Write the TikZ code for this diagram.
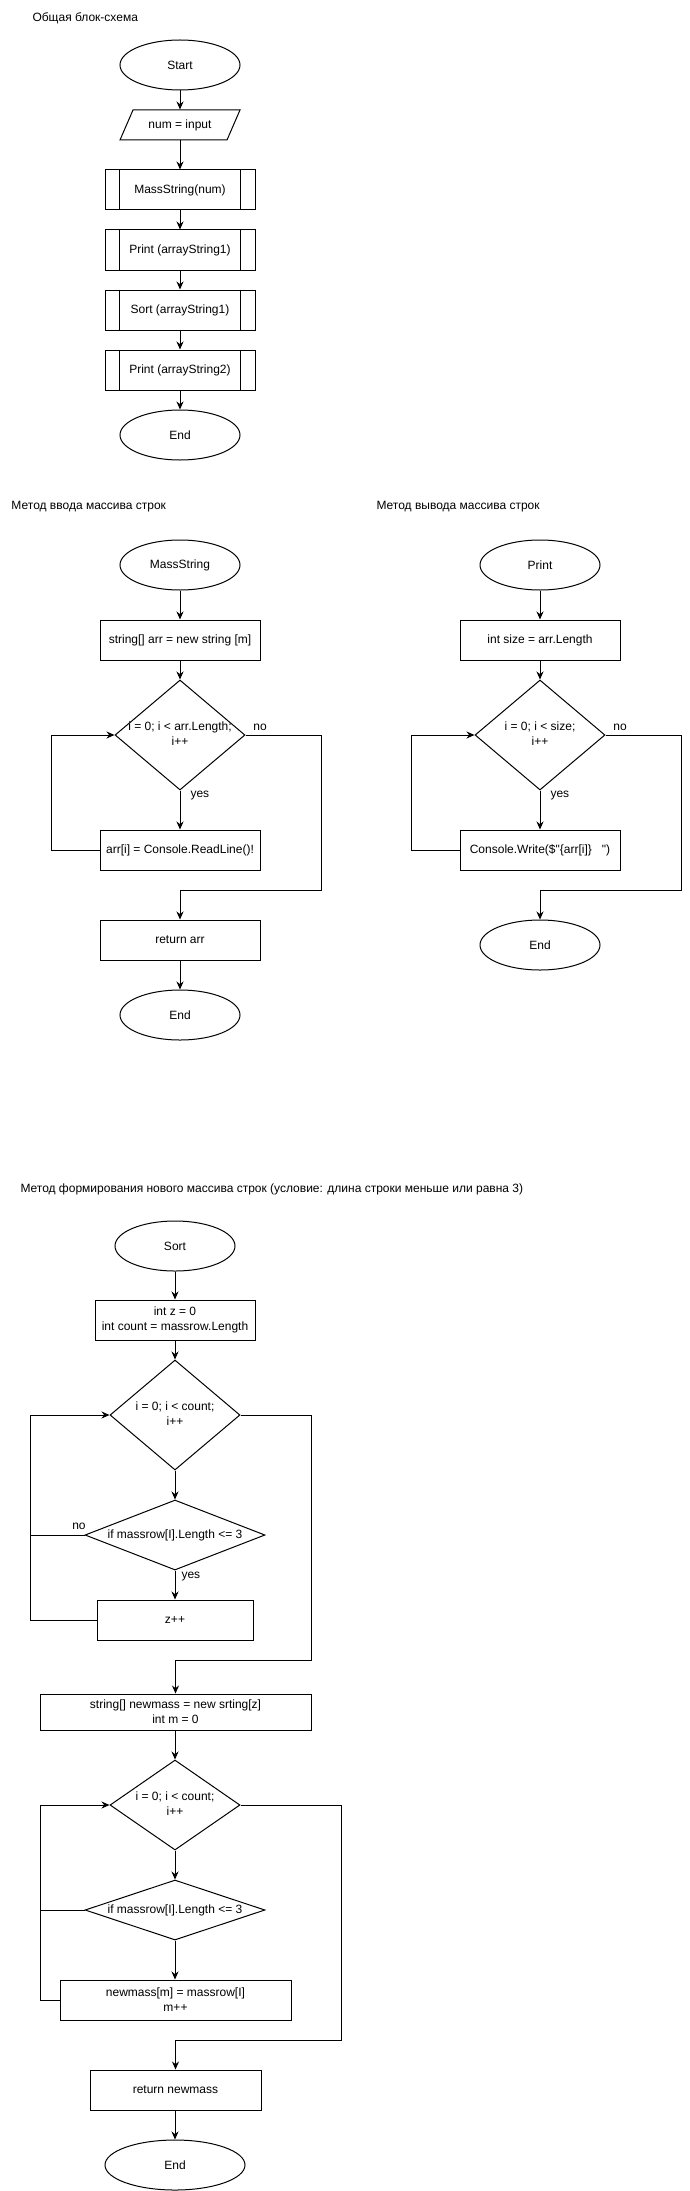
\documentclass[tikz,border=0pt]{standalone}
\usepackage{fontspec}
\setmainfont{Liberation Sans}[Ligatures=TeXOff]
\usetikzlibrary{shapes.geometric,arrows.meta}
\newcommand\dtext[1]{\makebox[0pt]{\begin{tabular}{@{}c@{}}#1\end{tabular}}}
\begin{document}
\begin{tikzpicture}[x=1pt, y=-1pt, line width=1pt,
  every node/.style={font=\fontsize{12}{15}\selectfont},
  term/.style={draw, ellipse, inner sep=0, minimum width=120, minimum height=50},
  proc/.style={draw, rectangle, inner sep=0, minimum height=40, align=center},
  sub/.style={proc, minimum width=150},
  dia/.style={draw, diamond, inner sep=0},
  arr/.style={-{Stealth[length=8pt,width=7pt]}},
  lbl/.style={inner sep=0},
  ttl/.style={anchor=west, inner sep=0}]
\fill[white] (0,0) rectangle (689,2191);
\useasboundingbox (0,0) rectangle (689,2191);

% ---------- Section 1 ----------
\node[ttl] (t1) at (32,18) {Общая блок-схема};
\node[term] (s) at (180,65) {Start};
\node[inner sep=0, minimum width=107, minimum height=30] (inp) at (180,125) {num = input};
\draw (120,140) -- (133,110) -- (240,110) -- (227,140) -- cycle;
\node[sub] (ms) at (180,190) {MassString(num)};
\node[sub] (p1) at (180,250) {Print (arrayString1)};
\node[sub] (so) at (180,310) {Sort (arrayString1)};
\node[sub] (p2) at (180,370) {Print (arrayString2)};
\node[term] (e1) at (180,435) {End};
\foreach \n in {ms,p1,so,p2}
  \draw ([xshift=15]\n.north west) -- ([xshift=15]\n.south west)
        ([xshift=-15]\n.north east) -- ([xshift=-15]\n.south east);
\draw[arr] (s) -- (inp);
\draw[arr] (inp) -- (ms);
\draw[arr] (ms) -- (p1);
\draw[arr] (p1) -- (so);
\draw[arr] (so) -- (p2);
\draw[arr] (p2) -- (e1);

% ---------- Section 2 ----------
\node[ttl] (t2) at (11,507) {Метод ввода массива строк};
\node[term] (ms2) at (180,565) {MassString};
\node[proc, minimum width=160] (a1) at (180,640) {string[] arr = new string [m]};
\node[dia, minimum width=130, minimum height=110] (d1) at (180,735) {\dtext{i = 0; i < arr.Length;\\i++}};
\node[proc, minimum width=160] (rl) at (180,850) {arr[i] = Console.ReadLine()!};
\node[proc, minimum width=160] (ret1) at (180,940) {return arr};
\node[term] (e2) at (180,1015) {End};
\node[lbl] (no1) at (260,727) {no};
\node[lbl, anchor=west] (yes1) at (190,796) {yes};
\draw[arr] (ms2) -- (a1);
\draw[arr] (a1) -- (d1);
\draw[arr] (d1) -- (rl);
\draw[arr] (rl.west) -- (51,850) |- (d1.west);
\draw[arr] (d1.east) -| (321,890) -| (ret1.north);
\draw[arr] (ret1) -- (e2);

% ---------- Section 3 ----------
\node[ttl] (t3) at (376,507) {Метод вывода массива строк};
\node[term] (pr) at (540,565) {Print};
\node[proc, minimum width=160] (sz) at (540,640) {int size = arr.Length};
\node[dia, minimum width=130, minimum height=110] (d2) at (540,735) {\dtext{i = 0; i < size;\\i++}};
\node[proc, minimum width=160] (cw) at (540,850) {Console.Write(\$"\{arr[i]\}\ \ \ ")};
\node[term] (e3) at (540,945) {End};
\node[lbl] (no2) at (620,727) {no};
\node[lbl, anchor=west] (yes2) at (550,796) {yes};
\draw[arr] (pr) -- (sz);
\draw[arr] (sz) -- (d2);
\draw[arr] (d2) -- (cw);
\draw[arr] (cw.west) -- (411,850) |- (d2.west);
\draw[arr] (d2.east) -| (681,890) -| (e3.north);

% ---------- Section 4 ----------
\node[ttl] (t4) at (20,1189) {Метод формирования нового массива строк (условие: длина строки меньше или равна 3)};
\node[term] (so2) at (175,1246) {Sort};
\node[proc, minimum width=160] (init) at (175,1320) {int z = 0\\int count = massrow.Length};
\node[dia, minimum width=130, minimum height=110] (d3) at (175,1415) {\dtext{i = 0; i < count;\\i++}};
\node[dia, minimum width=180, minimum height=70] (if1) at (175,1535) {\dtext{if massrow[I].Length <= 3}};
\node[proc, minimum width=156] (zp) at (175,1620) {z++};
\node[lbl] (no3) at (79,1526) {no};
\node[lbl, anchor=west] (yes3) at (181,1576) {yes};
\node[proc, minimum width=271, minimum height=36] (nm) at (175.5,1712) {string[] newmass = new srting[z]\\int m = 0};
\node[dia, minimum width=130, minimum height=90] (d4) at (175,1805) {\dtext{i = 0; i < count;\\i++}};
\node[dia, minimum width=180, minimum height=60] (if2) at (175,1910) {\dtext{if massrow[I].Length <= 3}};
\node[proc, minimum width=231] (nmm) at (175.5,2000) {newmass[m] = massrow[I]\\m++};
\node[proc, minimum width=171] (ret2) at (175.5,2090) {return newmass};
\node[term, minimum width=140] (e4) at (175,2165) {End};

\draw[arr] (so2) -- (init);
\draw[arr] (init) -- (d3);
\draw[arr] (d3) -- (if1);
\draw[arr] (if1) -- (zp);
\draw (if1.west) -- (30,1535);
\draw[arr] (zp.west) -- (30,1620) |- (d3.west);
\draw[arr] (d3.east) -| (311,1660) -| (nm.north);
\draw[arr] (nm.south -| d4.north) -- (d4.north);
\draw[arr] (d4) -- (if2);
\draw[arr] (if2) -- (nmm.north -| if2.south);
\draw (if2.west) -- (40,1910);
\draw[arr] (nmm.west) -- (40,2000) |- (d4.west);
\draw[arr] (d4.east) -| (341,2040) -| (ret2.north);
\draw[arr] (ret2.south -| e4.north) -- (e4.north);
\end{tikzpicture}
\end{document}
